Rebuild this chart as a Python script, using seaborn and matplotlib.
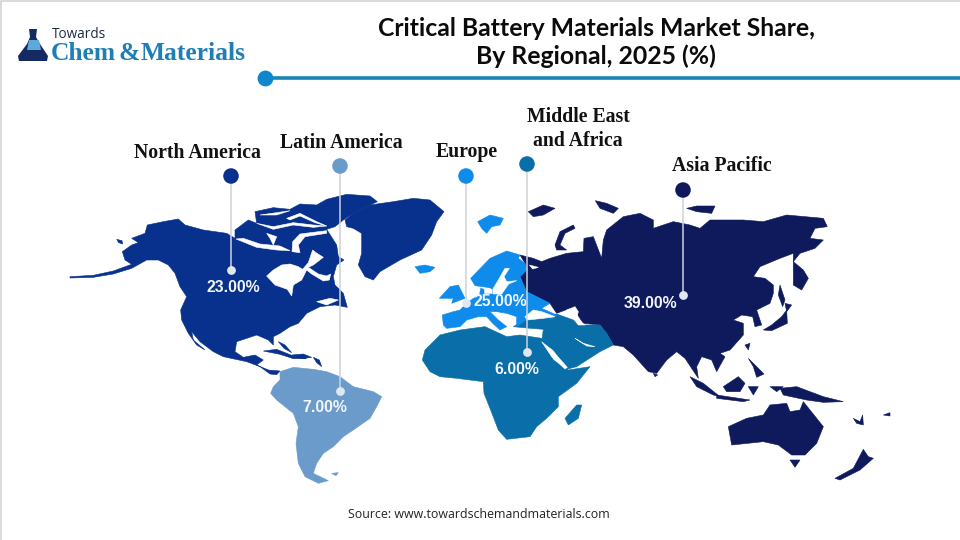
import matplotlib
matplotlib.use("Agg")
import matplotlib.pyplot as plt
import pandas as pd
import seaborn as sns
from matplotlib.patches import Polygon

regions = ["North America", "Latin America", "Europe", "Middle East\nand Africa", "Asia Pacific"]
shares = [23.0, 7.0, 25.0, 6.0, 39.0]
colors = ["#07318c", "#6b9bcb", "#0f8ceb", "#0a6fa8", "#0e1a5c"]

# where the pins sit on the picture (pixels)
pin_x = [231, 340, 466, 527, 683]
pin_top = [176, 166, 176, 164, 190]
pin_bottom = [270, 391, 303, 352, 295]
label_x = [197, 341, 467, 578, 722]
label_y = [153, 143, 152, 129, 166]
share_x = [233, 325, 500, 517, 650]
share_y = [287, 407, 302, 369, 303]

# rough outlines, in 3x crop coordinates of the left and right half
NA_MAIN = [(30,320),(100,316),(160,303),(215,283),(195,270),(187,245),(215,225),(235,218),(215,205),(255,190),(262,165),(310,155),(355,147),(375,165),(430,180),(500,190),(525,205),
           (525,180),(565,150),(590,160),(585,125),(640,113),(690,118),(720,102),(770,105),(800,88),(860,73),(930,78),(952,95),(920,110),(880,130),(850,150),(825,170),(800,178),
           (830,225),(835,260),(852,270),(830,285),(820,320),(825,345),(850,370),(862,412),(825,405),(780,410),(740,430),(715,460),(690,470),(660,490),(640,500),(640,525),(625,510),(590,495),(560,505),(530,515),(525,545),(550,562),(585,555),(610,570),(590,585),(625,600),(660,603),(650,614),(630,612),(600,590),(560,575),(490,560),(460,545),(420,515),(395,485),(400,510),(435,540),(410,525),(385,490),(365,450),(362,420),(380,380),(360,350),(345,310),(325,285),(295,270),(260,270),(215,295),(160,312),(100,322),(30,324)]
NA_ISLANDS = [
    [(610,543),(650,538),(700,558),(740,566),(700,566),(660,553)],
    [(695,555),(730,552),(755,562),(725,566)],
    [(655,515),(675,525),(695,548),(672,535)],
    [(760,562),(778,570),(785,590),(770,578)],
    [(170,208),(186,212),(188,222),(176,218)],
]
GREENLAND = [(855,150),(880,130),(930,105),(1000,95),(1060,85),(1110,90),(1152,125),(1130,155),(1115,195),(1085,240),(1020,270),(960,305),(940,330),(915,320),(895,285),(905,250),(905,190),(880,175),(860,170)]
HUDSON = [(620,318),(640,300),(665,285),(690,282),(715,290),(728,298),(745,278),(758,240),(768,248),(790,262),(760,285),(745,292),(775,312),(800,318),(812,312),(808,330),(790,333),(755,312),(740,300),(725,330),(700,345),(695,378),(682,358),(645,345)]
NA_CUTS = [
    [(696,245),(698,215),(720,192),(800,182),(800,190),(735,200),(715,225),(720,248)],
    [(528,207),(590,232),(650,240),(690,242),(660,228),(600,222),(550,205)],
    [(590,160),(640,178),(700,165),(760,172),(800,168),(760,165),(700,158),(640,170)],
    [(680,145),(720,130),(770,155),(800,168),(765,158),(720,138),(690,150)],
    [(620,190),(650,200),(640,225),(630,205)],
    [(600,135),(650,128),(690,122),(650,135)],
    [(770,395),(810,385),(835,390),(800,405)],
]
SOUTH_AMERICA = [(660,605),(700,592),(760,598),(800,605),(840,620),(880,650),(940,665),(965,680),(950,710),(930,745),(880,780),(850,800),(820,830),(790,850),(770,880),(760,910),(805,932),(775,940),(735,920),(715,880),(708,820),(715,770),(700,730),(650,690),(632,670),(640,650),(660,630)]
FALKLAND = [(815,910),(835,908),(828,917)]

ASIA_MAIN = [(330,255),(370,265),(395,275),(420,265),(470,250),(520,245),(522,205),(550,200),(575,265),(580,210),(590,180),(640,140),(690,130),(730,150),(730,175),(790,155),(840,165),(870,175),(900,150),(1000,150),(1060,155),(1130,135),(1240,145),(1252,170),(1215,175),(1200,205),(1240,210),(1215,235),(1170,250),(1150,275),(1180,300),(1195,325),(1175,360),(1150,345),(1150,250),(1110,265),(1050,290),(1030,320),(1065,325),(1090,345),(1090,370),(1080,400),(1040,420),(1055,465),(1035,470),(1028,440),(995,435),(970,450),(1000,460),(1000,495),(960,540),(930,550),(945,560),(920,605),(905,570),(875,560),(860,590),(865,625),(825,565),(800,545),(770,570),(740,610),(715,605),(670,555),(640,530),(610,525),(590,490),(570,465),(520,460),(500,430),(480,415),(440,430),(420,400),(350,365),(330,320),(350,300),(345,280)]
ASIA_ISLANDS = [
    [(435,225),(450,185),(490,165),(495,175),(465,190),(450,225),(470,240),(440,240)],
    [(355,125),(400,105),(435,115),(400,135),(370,140)],
    [(556,92),(590,100),(625,115),(610,130),(570,115)],
    [(830,115),(860,108),(915,108),(905,130),(860,125)],
    [(1060,480),(1085,465),(1115,440),(1130,420),(1132,460),(1085,482)],
    [(1110,345),(1125,390),(1118,410),(1105,375)],
    [(1125,400),(1145,405),(1130,425)],
    [(1015,565),(1040,590),(1062,612),(1040,622),(1030,590)],
    [(940,650),(985,620),(1005,640),(990,665),(950,665)],
    [(840,620),(880,640),(930,680),(910,675),(860,650)],
    [(920,675),(1020,690),(1000,695),(920,685)],
    [(1015,650),(1045,650),(1030,675)],
    [(1110,655),(1160,650),(1240,680),(1300,695),(1240,697),(1190,690),(1120,675)],
    [(955,770),(1010,745),(1060,735),(1080,705),(1130,700),(1140,725),(1170,720),(1180,695),(1240,770),(1220,820),(1185,855),(1145,855),(1105,825),(1060,815),(965,825)],
    [(1140,870),(1170,870),(1155,892)],
    [(1275,925),(1330,895),(1360,838),(1375,860),(1390,865),(1350,900),(1290,930)],
    [(730,610),(743,615),(735,620)],
    [(1330,745),(1350,755),(1358,735),(1360,765),(1340,760)],
    [(1420,735),(1440,728),(1440,738)],
    [(1080,650),(1120,650),(1100,665)],
    [(1005,525),(1020,520),(1015,540)],
]
AFRICA = [(37,570),(45,540),(90,495),(150,480),(225,470),(290,500),(330,495),(395,505),(430,570),(475,600),(540,590),(500,640),(445,680),(445,710),(410,745),(380,770),(360,800),(290,808),(265,780),(240,715),(222,670),(220,635),(140,625),(90,620),(60,605)]
MIDDLE_EAST = [(310,470),(345,450),(440,432),(490,450),(520,465),(570,465),(590,490),(610,525),(580,540),(570,545),(500,590),(470,598),(430,540),(395,515),(400,478),(350,474)]
MADAGASCAR = [(465,745),(500,705),(515,705),(505,745),(475,765)]
EUROPE_MAIN = [(100,465),(97,435),(130,425),(150,420),(165,405),(190,385),(208,378),(212,355),(222,358),(222,372),(250,372),(245,355),(232,352),(195,347),(182,325),(240,265),(290,243),(330,255),(325,265),(345,280),(350,300),(330,320),(350,365),(420,400),(395,415),(440,435),(430,445),(370,440),(345,452),(320,470),(320,440),(290,430),(260,425),(240,425),(265,450),(290,470),(270,480),(250,462),(230,440),(205,440),(170,450),(150,470),(110,475)]
UK = [(88,385),(120,350),(145,345),(165,385),(125,400),(130,385)]
SVALBARD = [(203,155),(240,135),(280,145),(270,165),(245,170),(230,190),(215,175)]
ICELAND = [(15,290),(45,285),(75,292),(60,305),(30,310)]
BALTIC = [(250,372),(248,358),(262,335),(285,295),(298,295),(282,320),(290,335),(320,332),(296,342),(275,372)]
SEA_CUTS = [
    [(345,440),(370,420),(395,425),(435,440),(400,445),(352,450)],
    [(470,420),(495,410),(505,425),(500,445),(525,465),(505,465),(485,440)],
    [(395,515),(430,545),(472,592),(465,597),(425,560)],
    [(495,505),(520,520),(555,530),(530,528)],
    [(358,285),(385,292),(368,297)],
]


def to_px(points, left):
    # crops were taken at 3x from y=170
    return [(left + x / 3, 170 + y / 3) for x, y in points]


def draw_land(ax, points, left, color, zorder=2):
    ax.add_patch(Polygon(to_px(points, left), closed=True, fc=color, ec=color, lw=0.4, zorder=zorder))


sns.set_theme(style="white")
fig, ax = plt.subplots(figsize=(9.6, 5.4), dpi=100)
fig.subplots_adjust(0, 0, 1, 1)
ax.set_xlim(0, 960)
ax.set_ylim(540, 0)
ax.axis("off")

# --- land ---
for shape in [NA_MAIN, GREENLAND] + NA_ISLANDS:
    draw_land(ax, shape, 60, colors[0])
for shape in [HUDSON] + NA_CUTS:
    draw_land(ax, shape, 60, "white", 3)
for shape in [SOUTH_AMERICA, FALKLAND]:
    draw_land(ax, shape, 60, colors[1])
for shape in [ASIA_MAIN] + ASIA_ISLANDS:
    draw_land(ax, shape, 410, colors[4])
for shape in [AFRICA, MIDDLE_EAST, MADAGASCAR]:
    draw_land(ax, shape, 410, colors[3])
for shape in [EUROPE_MAIN, UK, SVALBARD, ICELAND]:
    draw_land(ax, shape, 410, colors[2])
for shape in [BALTIC] + SEA_CUTS:
    draw_land(ax, shape, 410, "white", 3)

# --- pins ---
for x, y0, y1 in zip(pin_x, pin_top, pin_bottom):
    ax.plot([x, x], [y0, y1], color="#cdd2d9", lw=1.1, zorder=4)

pins = pd.DataFrame({"region": regions, "share": shares, "x": pin_x, "top": pin_top, "bottom": pin_bottom})
sns.scatterplot(data=pins, x="x", y="top", hue="region", palette=colors, s=125, linewidth=0,
                legend=False, ax=ax, zorder=5)
sns.scatterplot(data=pins, x="x", y="bottom", color="#dfe8f2", s=40, linewidth=0,
                legend=False, ax=ax, zorder=5)
ax.set_xlabel("")
ax.set_ylabel("")

for name, value, lx, ly, sx, sy in zip(regions, shares, label_x, label_y, share_x, share_y):
    ax.text(lx, ly, name, ha="center", va="center", family="Liberation Serif", weight="bold",
            fontsize=14.2, color="#111111", linespacing=1.3, zorder=6)
    ax.text(sx, sy, f"{value:.2f}%", ha="center", va="center", family="Liberation Sans", weight="bold",
            fontsize=11.4, color="#f2f6fb", zorder=6)

# --- header ---
ax.text(596, 28, "Critical Battery Materials Market Share,", ha="center", va="center",
        family="Lato", weight="bold", fontsize=17.8, color="#0b0b0b")
ax.text(596, 56, "By Regional, 2025 (%)", ha="center", va="center",
        family="Lato", weight="bold", fontsize=17.8, color="#0b0b0b")
ax.plot([265, 960], [78, 78], color="#1a86b4", lw=2.6, zorder=2, solid_capstyle="butt")
ax.scatter([265], [78], s=130, color="#0f86cf", linewidth=0, zorder=3)

ax.text(479, 515, "Source: www.towardschemandmaterials.com", ha="center", va="center",
        family="Open Sans", fontsize=8.9, color="#222222")

# --- logo ---
ax.add_patch(Polygon([(29,29),(37,29),(36,37),(40,44),(48,56),(47,61),(19,61),(18,56),(27,44),(30,37)],
                     closed=True, fc="#152a63", ec="none", zorder=2))
ax.add_patch(Polygon([(29,40),(39,40),(41,50),(27,50)], closed=True, fc="#5ea9d8", ec="none", zorder=3))
ax.text(52, 34, "Towards", ha="left", va="center", family="Open Sans", fontsize=9.8, color="#1f2a44")
ax.text(51, 53, "Chem", ha="left", va="center", family="Liberation Serif", weight="bold",
        fontsize=18.4, color="#1f7fb5")
ax.text(118, 53, "&", ha="left", va="center", family="Liberation Serif", weight="bold",
        fontsize=18.4, color="#1f7fb5")
ax.text(141, 53, "Materials", ha="left", va="center", family="Liberation Serif", weight="bold",
        fontsize=18.4, color="#1f7fb5")

# thin frame the source image has on top and left
ax.plot([0.5, 0.5, 960], [540, 0.5, 0.5], color="#d4d4d4", lw=1.2, clip_on=False)

fig.savefig("out.png", dpi=100)
